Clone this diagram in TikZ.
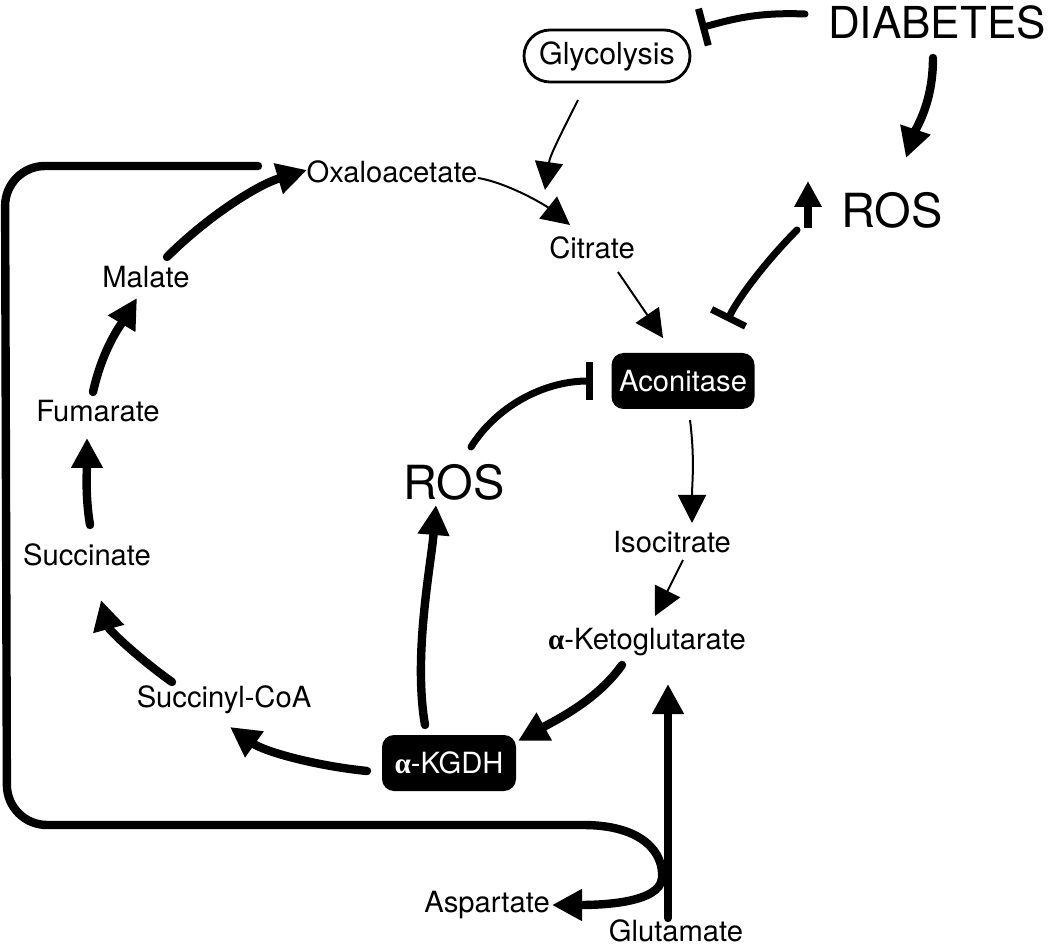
\documentclass[tikz,border=0pt]{standalone}
\usepackage{fontspec}
\setmainfont{TeX Gyre Heros}
\newfontfamily\greekf{Liberation Serif}
\usetikzlibrary{arrows.meta,calc}
\newcommand{\alphab}{{\greekf\bfseries α}}
\tikzset{
  lbl/.style={inner sep=0pt, font=\fontsize{14.6}{17}\selectfont},
  biglbl/.style={inner sep=0pt, font=\fontsize{23.5}{27}\selectfont},
  enzyme/.style={fill=black, text=white, rounded corners=6pt, inner sep=0pt,
    font=\fontsize{14.6}{17}\selectfont},
  thickarr/.style={line width=4.2pt, line cap=round, -{Triangle[length=15pt,width=15pt]}},
  thinarr/.style={line width=1pt, -{Triangle[length=14pt,width=14pt]}},
  inhib/.style={line width=3.5pt, line cap=round, -{Bar[width=19pt]}},
}
\begin{document}
\begin{tikzpicture}[x=0.5pt,y=-0.5pt]
\useasboundingbox (0,0) rectangle (1050,946);
% nodes
\node[inner sep=0pt, font=\fontsize{22}{26}\selectfont] (dia) at (937,22) {DIABETES};
\node[draw, line width=1.4pt, rounded corners=13pt, minimum width=83pt, minimum height=26pt, inner sep=0pt,
      font=\fontsize{15.2}{18}\selectfont] (gly) at (607,56) {Glycolysis};
\node[lbl] (oxa) at (392,172) {Oxaloacetate};
\node[lbl] (cit) at (592,248) {Citrate};
\node[biglbl] (ros1) at (892,210) {ROS};
\node[enzyme, minimum width=71.5pt, minimum height=28pt] (aco) at (683,381) {Aconitase};
\node[biglbl] (ros2) at (454,482) {ROS};
\node[lbl] (iso) at (672,542) {Isocitrate};
\node[lbl] (akg) at (647,642) {\alphab-Ketoglutarate};
\node[enzyme, minimum width=67pt, minimum height=28pt] (kgdh) at (449,763) {\alphab-KGDH};
\node[lbl] (suc) at (224,700) {Succinyl-CoA};
\node[lbl] (succ) at (87,555) {Succinate};
\node[lbl] (fum) at (98,411) {Fumarate};
\node[lbl] (mal) at (146,277) {Malate};
\node[lbl] (asp) at (487,905) {Aspartate};
\node[lbl] (glu) at (676,931) {Glutamate};

% DIABETES connections
\draw[inhib] ($(dia)+(-132,-8)$) .. controls +(-50,-2) and +(30,-8) .. ($(gly)+(93,-28)$);
\draw[thickarr] ($(dia)+(-4,36)$) .. controls +(0,45) and +(10,-30) .. ($(ros1)+(14,-52)$);
\draw[line width=3.6pt, -{Triangle[length=13pt,width=13pt]}] ($(ros1)+(-84,18)$) -- ($(ros1)+(-84,-29)$);
\draw[inhib] ($(ros1)+(-95,20)$) .. controls +(-25,25) and +(14,-28) .. ($(aco)+(44,-60)$);

% thin arrows
\draw[thinarr] ($(gly)+(-29,44)$) .. controls +(-15,30) and +(5,-35) .. ($(cit)+(-47,-58)$);
\draw[thinarr] ($(oxa)+(86,6)$) .. controls +(30,5) and +(-25,-20) .. ($(cit)+(-22,-23)$);
\draw[thinarr] ($(cit)+(26,24)$) -- ($(aco)+(-20,-43)$);
\draw[thinarr] ($(aco)+(7,39)$) .. controls +(5,40) and +(0,-40) .. ($(iso)+(20,-19)$);
\draw[thinarr] ($(iso)+(11,18)$) -- ($(akg)+(8,-26)$);

% thick cycle arrows
\draw[thickarr] ($(akg)+(-25,23)$) .. controls +(-25,35) and +(40,-22) .. ($(kgdh)+(69,-22)$);
\draw[thickarr] ($(kgdh)+(-24,-38)$) .. controls +(-12,-70) and +(-5,60) .. ($(ros2)+(-18,23)$);
\draw[inhib] ($(ros2)+(17,-35)$) .. controls +(25,-40) and +(-50,0) .. ($(aco)+(-90,0)$);
\draw[thickarr] ($(kgdh)+(-82,8)$) .. controls +(-50,-5) and +(35,25) .. ($(suc)+(6,27)$);
\draw[thickarr] ($(suc)+(-52,-18)$) .. controls +(-35,-25) and +(8,30) .. ($(succ)+(14,45)$);
\draw[thickarr] ($(succ)+(3,-30)$) .. controls +(-5,-30) and +(0,30) .. ($(fum)+(-11,27)$);
\draw[thickarr] ($(fum)+(-5,-19)$) .. controls +(10,-45) and +(-15,25) .. ($(mal)+(-9,21)$);
\draw[thickarr] ($(mal)+(21,-20)$) .. controls +(40,-40) and +(-50,15) .. ($(oxa)+(-85,-2)$);

% glutamate
\draw[thickarr] ($(glu)+(-8,-13)$) -- ($(akg)+(21,42)$);
\draw[line width=4.2pt, line cap=round, -{Triangle[length=15pt,width=15pt]}]
  [rounded corners=20pt] ($(oxa)+(-134,-6)$) -- ($(oxa)+(-387,-6)$) -- ($(asp)+(-480,-80)$) -- ($(asp)+(56,-80)$)
  [sharp corners] .. controls +(100,0) and +(2,-25) .. ($(glu)+(-14,-53)$)
  .. controls +(-2,25) and +(50,0) .. ($(asp)+(65,0)$);
\end{tikzpicture}
\end{document}
